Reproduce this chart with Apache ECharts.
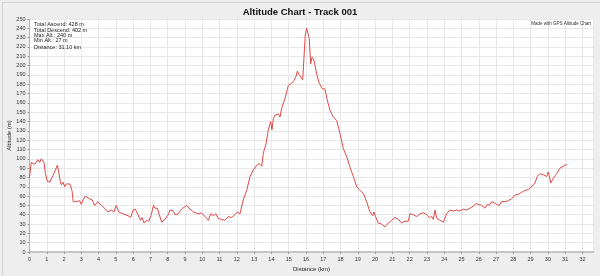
<!DOCTYPE html>
<html>
<head>
<meta charset="utf-8">
<script src="https://cdn.jsdelivr.net/npm/echarts@6/dist/echarts.min.js"></script>
<style>html,body{margin:0;padding:0;background:#eeeeee}#c{width:600px;height:276px}</style>
</head>
<body>
<div id="c"></div>
<script>
const distanceKm = [0.0,0.1,0.2,0.3,0.4,0.49,0.59,0.68,0.78,0.84,0.92,1.03,1.17,1.26,1.36,1.5,1.61,1.69,1.78,1.84,1.94,2.04,2.13,2.23,2.33,2.38,2.46,2.53,2.71,2.8,2.9,3.0,3.1,3.23,3.39,3.48,3.62,3.77,3.96,4.16,4.35,4.54,4.73,4.89,5.02,5.16,5.41,5.7,5.86,5.99,6.12,6.28,6.43,6.51,6.63,6.76,6.9,7.05,7.17,7.26,7.4,7.51,7.65,7.84,8.03,8.13,8.32,8.42,8.61,8.75,8.87,8.94,9.1,9.29,9.48,9.77,9.96,10.06,10.21,10.35,10.49,10.64,10.79,10.93,11.12,11.31,11.5,11.7,11.89,12.03,12.18,12.22,12.37,12.57,12.76,12.95,13.15,13.3,13.44,13.53,13.69,13.82,13.96,14.03,14.11,14.21,14.3,14.4,14.5,14.59,14.79,14.98,15.17,15.31,15.42,15.5,15.61,15.71,15.81,15.9,15.96,16.04,16.13,16.19,16.27,16.35,16.46,16.62,16.77,16.96,17.1,17.23,17.39,17.58,17.78,17.97,18.16,18.36,18.55,18.74,18.94,19.13,19.32,19.51,19.7,19.86,19.93,20.05,20.18,20.38,20.57,20.76,20.96,21.15,21.35,21.54,21.73,21.92,22.02,22.21,22.41,22.6,22.79,22.99,23.14,23.28,23.37,23.47,23.57,23.66,23.76,23.95,24.05,24.14,24.33,24.53,24.72,24.91,25.1,25.3,25.49,25.68,25.84,25.97,26.17,26.26,26.36,26.49,26.61,26.75,26.88,27.03,27.19,27.32,27.51,27.71,27.9,28.09,28.29,28.48,28.67,28.87,29.06,29.25,29.39,29.45,29.54,29.73,29.83,29.93,30.02,30.08,30.16,30.31,30.5,30.7,30.79,30.99,31.1];
const altitudeM = [80,96,97,94,96,99,96,100,98,96,84,76,75,77,82,88,93,86,76,72,75,70,73,75,73,75,66,54,54,52,55,51,56,60,58,60,56,50,54,50,47,43,45,43,50,43,41,39,37,45,46,40,34,37,31,34,33,40,50,47,47,40,32,35,40,45,44,40,41,45,47,45,50,46,43,41,42,41,37,34,41,39,41,36,35,34,38,37,40,43,41,42,56,66,81,88,93,95,92,106,116,131,140,131,143,147,145,148,145,154,165,179,181,184,188,194,190,191,185,183,233,240,234,229,202,209,206,191,181,175,175,163,152,145,141,127,111,102,91,81,70,66,63,54,43,39,43,37,31,30,27,31,34,37,35,31,33,33,41,40,38,41,42,40,37,38,35,45,36,37,34,32,33,41,45,44,45,44,46,45,47,49,52,51,50,52,47,51,50,54,53,51,50,54,54,55,57,61,62,64,66,67,70,74,81,79,84,83,84,81,86,82,74,79,84,90,92,93,94];
const statLines = ["Total Ascend: 428 m","Total Descend: 402 m","Max Alt.: 240 m","Min Alt.: 27 m","Distance: 31.10 km"];
const titleText = "Altitude Chart - Track 001";
const creditText = "Made with GPS Altitude Chart";
const xName = "Distance (km)";
const yName = "Altitude (m)";

const chart = echarts.init(document.getElementById('c'), null, {renderer:'canvas'});
const font = 'Liberation Sans, Arial, sans-serif';
const statTops = [21, 27, 32.5, 37, 44.5];
const graphics = [{
  type:'rect', left:0, top:0, shape:{width:599, height:275},
  style:{fill:'none', stroke:'#d4d4d4', lineWidth:1}, silent:true, z:-1
}];
statLines.forEach((t,i)=>{
  graphics.push({type:'text', left:34, top:statTops[i], style:{text:t, fontSize:5.5, fontFamily:font, fill:'#222'}, z:10});
});
graphics.push({type:'text', right:9, top:21, style:{text:creditText, fontSize:4.5, fontFamily:font, fill:'#333'}, z:10});

chart.setOption({
  backgroundColor:'#eeeeee',
  animation:false,
  title:{text:titleText, left:'center', top:2, textStyle:{fontSize:9.5, fontWeight:'bold', fontFamily:font, color:'#111'}},
  grid:{left:29.5, right:6.5, top:19, bottom:24, show:true, backgroundColor:'#ffffff', borderWidth:0, containLabel:false, outerBoundsMode:'none'},
  xAxis:{
    type:'value', min:0, max:32.64, interval:1,
    name:xName, nameLocation:'middle', nameGap:14, nameMoveOverlap:false,
    nameTextStyle:{fontSize:6, fontFamily:font, color:'#222'},
    axisLine:{show:true, lineStyle:{color:'#b4b4b4', width:1.5}},
    axisTick:{show:true, length:2, lineStyle:{color:'#999'}},
    axisLabel:{fontSize:5.5, fontFamily:font, color:'#333', margin:4, showMaxLabel:false},
    splitLine:{show:true, lineStyle:{color:'#e8e8e8', width:1}}
  },
  yAxis:{
    type:'value', min:0, max:250, interval:10,
    name:yName, nameLocation:'middle', nameGap:17, nameRotate:90, nameMoveOverlap:false,
    nameTextStyle:{fontSize:6, fontFamily:font, color:'#222'},
    axisLine:{show:true, lineStyle:{color:'#b4b4b4', width:1}},
    axisTick:{show:true, length:2, lineStyle:{color:'#999'}},
    axisLabel:{fontSize:5.5, fontFamily:font, color:'#333', margin:4},
    splitLine:{show:true, lineStyle:{color:'#e8e8e8', width:1}}
  },
  series:[{
    type:'line', showSymbol:false, smooth:false,
    data: distanceKm.map((d,i)=>[d, altitudeM[i]]),
    lineStyle:{color:'#e04848', width:1},
    z:5
  }],
  graphic: graphics
});
</script>
</body>
</html>
